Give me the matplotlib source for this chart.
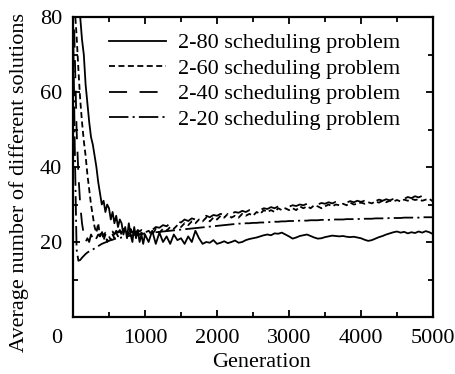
import matplotlib
matplotlib.use("Agg")
import matplotlib.pyplot as plt
import matplotlib.transforms as mtransforms
from matplotlib.ticker import MultipleLocator

# ---------------- data ----------------
gen_early = list(range(0, 1000, 25))
gen_late = list(range(1000, 5001, 50))
generation = gen_early + gen_late

s80_early = [95, 92, 88, 85, 80, 74, 70, 62, 57, 52, 48, 46, 43, 40, 36, 33, 30, 31, 28, 30,
             29, 26, 28, 25, 27, 24, 26, 25, 22, 24, 21, 25, 22, 20, 24, 21, 23, 20, 22, 19.5]
s80_late = [22, 20, 23, 19.5, 22.5, 20, 21.5, 19.5, 22, 20.5, 21, 19.5, 21.5, 20, 23, 21, 19.5, 20, 19.8, 20.5,
            19.5, 19.8, 20.2, 19.7, 20, 20.4, 19.8, 20, 20.5, 20.8, 21, 21.2, 21.5, 21.8, 22, 21.8, 22.3, 22.2, 22.5, 22,
            21.5, 20.9, 21.2, 21.6, 21.8, 22, 21.6, 21.2, 20.9, 21, 21.3, 21.5, 21.7, 21.6, 21.5, 21.6, 21.4, 21.3, 21.4, 21.2,
            21, 20.6, 20.3, 20.5, 20.9, 21.3, 21.6, 22, 22.3, 22.6, 22.8, 22.5, 22.7, 22.3, 22.6, 22.4, 22.8, 22.5, 22.9, 22.6,
            22.1]

s60_early = [88, 82, 75, 66, 58, 52, 47, 43, 38, 34, 30, 27, 24, 22.5, 25, 21.5, 23, 20.5, 22, 20,
             21.5, 20.5, 22, 21, 22.5, 21.5, 23, 22, 23.5, 22.5, 23, 22, 23.5, 22.5, 23, 22, 22.8, 21.8, 22.5, 22]
s60_late = [22.5, 23, 22, 23.5, 22.5, 23.5, 23, 24, 23.5, 24.5, 24, 25, 24.5, 25.5, 25, 26, 25.5, 26.5, 25.5, 26.5,
            26, 27, 26.5, 27.5, 26.5, 27, 26.5, 27.5, 27, 27.5, 27, 28, 27.5, 28.5, 28, 28.5, 28, 29, 28.5, 29,
            28.5, 29, 28.5, 29.5, 29, 29.5, 29, 29.8, 29.5, 29, 29.5, 30, 29.5, 30, 29.8, 30.2, 29.8, 30.5, 30, 30.2,
            30.5, 30.2, 30.6, 30.3, 30.8, 30.5, 31, 30.6, 31, 30.8, 31.2, 30.8, 31.3, 31, 31.5, 31.2, 31.4, 31, 31.3, 31.5,
            30.8]

s40_early = [90, 70, 50, 38, 30, 25, 22, 20, 21, 20, 22, 21, 22.5, 21, 22, 21.5, 22.5, 21.8, 22.5, 22,
             23, 22.2, 22.8, 22, 23, 22.5, 23.2, 22.5, 23, 22.2, 22.8, 22.2, 23, 22.5, 23, 22.5, 23.2, 22.8, 23.2, 22.8]
s40_late = [23, 23.5, 23.2, 24, 23.8, 24.5, 24.2, 25, 24.8, 25.5, 25.2, 26, 25.6, 26.3, 26, 26.8, 26.4, 27, 26.6, 27.2,
            27, 27.5, 27.2, 27.8, 27.5, 28, 27.8, 28.3, 28, 28.5, 28.3, 28.8, 28.5, 29, 28.8, 29.3, 29, 29.5, 29.2, 29.7,
            29.4, 29.8, 29.6, 30, 29.8, 30.2, 30, 30.3, 30, 30.4, 30.2, 30.6, 30.3, 30.7, 30.4, 30.8, 30.5, 30.9, 30.6, 31,
            30.7, 31, 30.8, 31.2, 30.9, 31.3, 31, 31.4, 31.1, 31.5, 31.3, 31.8, 31.5, 32, 31.7, 32.2, 31.9, 32.3, 32, 32.4,
            32]

s20_early = [80, 45, 18, 15, 15.2, 15.8, 16.3, 16.8, 17.2, 17.5, 17.8, 18, 18.3, 18.6, 18.9, 19.2, 19.5, 19.7, 19.9, 20.1,
             20.3, 20.5, 20.6, 20.8, 20.9, 21, 21.1, 21.2, 21.3, 21.4, 21.5, 21.6, 21.7, 21.8, 21.9, 22, 22, 22.1, 22.2, 22.2]
s20_late = [22.3, 22.4, 22.5, 22.6, 22.7, 22.8, 22.9, 23, 23.1, 23.2, 23.3, 23.4, 23.5, 23.6, 23.7, 23.8, 23.9, 24, 24.1, 24.2,
            24.3, 24.4, 24.5, 24.6, 24.7, 24.8, 24.9, 24.9, 25, 25, 25.1, 25.1, 25.2, 25.2, 25.3, 25.3, 25.4, 25.4, 25.5, 25.5,
            25.6, 25.6, 25.6, 25.7, 25.7, 25.7, 25.8, 25.8, 25.8, 25.9, 25.9, 25.9, 26, 26, 26, 26, 26.1, 26.1, 26.1, 26.1,
            26.2, 26.2, 26.2, 26.2, 26.3, 26.3, 26.3, 26.3, 26.4, 26.4, 26.4, 26.4, 26.5, 26.5, 26.5, 26.5, 26.5, 26.6, 26.6, 26.6,
            26.6]

labels = ["2-80 scheduling problem", "2-60 scheduling problem",
          "2-40 scheduling problem", "2-20 scheduling problem"]
x_ticks = [0, 1000, 2000, 3000, 4000, 5000]
y_ticks = [20, 40, 60, 80]

series = [s80_early + s80_late, s60_early + s60_late,
          s40_early + s40_late, s20_early + s20_late]

# ---------------- style ----------------
plt.rcParams['font.family'] = ['Liberation Serif', 'DejaVu Serif']
plt.rcParams['font.size'] = 16
plt.rcParams['lines.scale_dashes'] = False

fig = plt.figure(figsize=(4.56, 3.74), dpi=100)
ax = fig.add_axes([73 / 456, 1 - 317 / 374, 360 / 456, 300 / 374])

dash_styles = ['-', (0, (4.3, 2.5)), (0, (13, 9)), (0, (14, 3, 1.5, 3))]
for vals, lab, ls in zip(series, labels, dash_styles):
    ax.plot(generation, vals, color='black', lw=1.3, linestyle=ls, label=lab)

ax.set_xlim(0, 5000)
ax.set_ylim(0, 80)
ax.set_xticks(x_ticks)
ax.set_yticks(y_ticks)
ax.xaxis.set_minor_locator(MultipleLocator(500))
ax.yaxis.set_minor_locator(MultipleLocator(10))
ax.tick_params(which='both', direction='in', top=True, right=True, width=1.3)
ax.tick_params(which='major', length=5)
ax.tick_params(which='minor', length=3.5)
ax.tick_params(axis='x', pad=8.5)
ax.tick_params(axis='y', pad=8)
for sp in ax.spines.values():
    sp.set_linewidth(1.6)

# shift the "0" label to the left as in the reference
off = mtransforms.ScaledTranslation(-16 / 100, 0, fig.dpi_scale_trans)
ax.get_xticklabels()[0].set_transform(ax.get_xticklabels()[0].get_transform() + off)

ax.set_xlabel("Generation")
ax.set_ylabel("Average number of different solutions")
ax.xaxis.set_label_coords(0.525, -0.12)
ax.yaxis.set_label_coords(-0.122, 0.447)

leg = ax.legend(loc='upper left', bbox_to_anchor=(0.099, 0.947), frameon=False,
                handlelength=2.6, handletextpad=0.5, labelspacing=0.22,
                borderpad=0, borderaxespad=0)

fig.savefig("out.png", dpi=100)
